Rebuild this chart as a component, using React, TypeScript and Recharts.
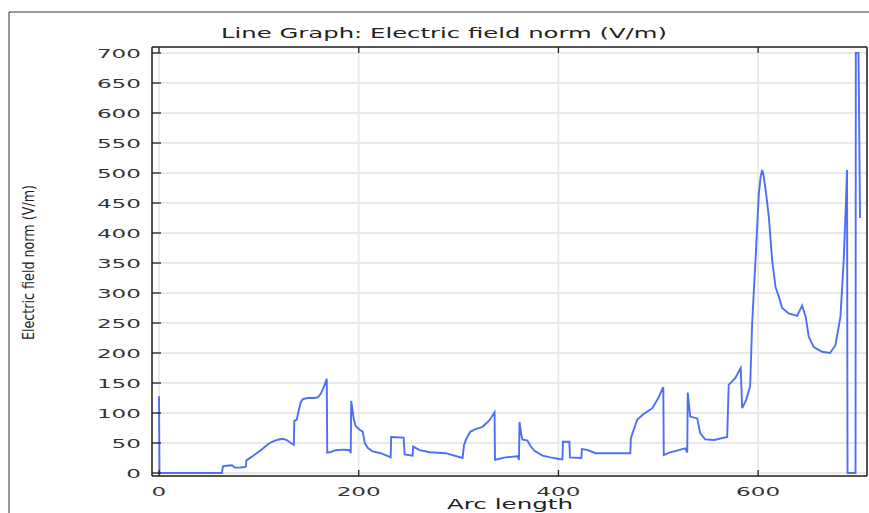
import React from "react";
import { CartesianGrid, Line, LineChart, XAxis, YAxis } from "recharts";

// arc length samples along the boundary
const arcLength = [
  0, 0.5, 63, 64, 68, 73, 76, 80, 86, 87, 87.5, 92, 97, 102, 107, 111, 115, 119, 124, 128, 132, 135,
  135.5, 138, 140, 142, 144, 149, 155, 159, 162, 165, 168, 168.5, 172, 177, 185, 191, 192, 192.5,
  195, 197, 201, 204, 206, 209, 214, 222, 231, 232, 232.5, 245, 246, 254, 254.5, 261, 271, 287, 304,
  305.5, 308, 312, 317, 324, 331, 336, 336.5, 347, 359, 360.5, 361, 363, 364, 369, 372, 376, 384,
  392, 402, 404, 404.5, 411, 411.5, 423, 423.5, 429, 437, 472, 472.5, 476, 479, 485, 494, 500, 505,
  505.5, 511, 527, 529, 529.5, 532, 539, 542, 547, 556, 569, 570.5, 577, 582.5, 584, 588, 592, 594,
  597.5, 600.7, 602.5, 604, 605.5, 607.5, 610.7, 614, 617.4, 620.7, 624, 630.7, 639, 644, 647.5,
  650.7, 655.7, 664, 672, 677.4, 682.4, 685.7, 688, 689, 689.5, 697.5, 697.8, 700.5, 702,
];

// electric field norm (V/m)
const fieldNorm = [
  128, 0, 0, 11, 12, 13, 9, 9, 10, 11, 21, 26, 32, 38, 45, 50, 53, 55.5, 57, 55, 50, 47,
  87, 89, 105, 118, 123, 125, 125, 126, 132, 143, 157, 34, 35, 38, 39, 38, 33, 120,
  90, 78, 72, 69, 50, 42, 36, 33, 27, 26, 60, 59, 31, 29, 44, 38, 34.5, 33, 25,
  47, 58, 69, 73, 77, 88, 101, 22, 26, 28, 22, 85, 62, 56, 54, 45, 37, 29,
  26, 23, 23, 52, 52, 26, 25, 40, 38.5, 33, 33, 58, 75, 89, 98, 108, 125, 143,
  30, 34, 41, 34, 134, 94, 91, 66, 56, 55, 60, 147, 158, 175, 108, 122, 145, 250,
  360, 466, 494, 505, 495, 472, 427, 355, 310, 294, 275, 266, 262, 279, 261,
  227, 210, 202, 200, 213, 260, 355, 455, 505, 0, 0, 700, 700, 425,
];

const xTicks = [0, 200, 400, 600];
const yTicks = [0, 50, 100, 150, 200, 250, 300, 350, 400, 450, 500, 550, 600, 650, 700];

const data = arcLength.map((arc, i) => ({ arc, norm: fieldNorm[i] }));

const FONT = "'DejaVu Sans', Verdana, sans-serif";
const INK = "#222";
const DIGIT_W = 14.7;

function LeftTick(props: any) {
  const { x, y, payload } = props;
  const label = String(payload.value);
  const w = label.length * DIGIT_W;
  return (
    <g>
      <line x1={x} y1={y} x2={x + 9} y2={y} stroke={INK} strokeWidth={1.3} />
      <text
        x={x - 11 - w}
        y={y + 5}
        fontFamily={FONT}
        fontSize={13}
        fill="#333"
        textLength={w}
        lengthAdjust="spacingAndGlyphs"
      >
        {label}
      </text>
    </g>
  );
}

function RightTick(props: any) {
  const { x, y } = props;
  return <line x1={x} y1={y} x2={x - 9} y2={y} stroke={INK} strokeWidth={1.3} />;
}

function BottomTick(props: any) {
  const { x, y, payload } = props;
  const label = String(payload.value);
  const w = label.length * DIGIT_W;
  return (
    <g>
      <line x1={x} y1={y} x2={x} y2={y - 6} stroke={INK} strokeWidth={1.3} />
      <text
        x={x - w / 2}
        y={y + 20}
        fontFamily={FONT}
        fontSize={13}
        fill="#333"
        textLength={w}
        lengthAdjust="spacingAndGlyphs"
      >
        {label}
      </text>
    </g>
  );
}

function TopTick(props: any) {
  const { x, y } = props;
  return <line x1={x} y1={y} x2={x} y2={y + 6} stroke={INK} strokeWidth={1.3} />;
}

export default function App() {
  const axisLine = { stroke: INK, strokeWidth: 1.5 };
  return (
    <div style={{ position: "absolute", left: 0, top: 0, width: 869, height: 513, background: "#fff", overflow: "hidden" }}>
      <LineChart width={869} height={513} data={data} margin={{ top: 27, right: 1, bottom: 7, left: 92 }}>
        <CartesianGrid stroke="#e9e9e9" strokeWidth={1.8} />
        <XAxis
          dataKey="arc"
          type="number"
          domain={[-7, 709]}
          ticks={xTicks}
          interval={0}
          height={30}
          tickSize={0}
          tickMargin={0}
          tickLine={false}
          axisLine={axisLine}
          tick={BottomTick}
        />
        <XAxis
          xAxisId="top"
          orientation="top"
          dataKey="arc"
          type="number"
          domain={[-7, 709]}
          ticks={xTicks}
          interval={0}
          height={20}
          tickSize={0}
          tickMargin={0}
          tickLine={false}
          axisLine={axisLine}
          tick={TopTick}
        />
        <YAxis
          type="number"
          domain={[-5, 710]}
          ticks={yTicks}
          interval={0}
          width={60}
          tickSize={0}
          tickMargin={0}
          tickLine={false}
          axisLine={axisLine}
          tick={LeftTick}
        />
        <YAxis
          yAxisId="right"
          orientation="right"
          type="number"
          domain={[-5, 710]}
          ticks={yTicks}
          interval={0}
          width={1}
          tickSize={0}
          tickMargin={0}
          tickLine={false}
          axisLine={axisLine}
          tick={RightTick}
        />
        <Line
          dataKey="norm"
          type="linear"
          stroke="#4d6ef5"
          strokeWidth={1.9}
          dot={false}
          isAnimationActive={false}
        />
      </LineChart>
      <svg width={869} height={513} style={{ position: "absolute", left: 0, top: 0, pointerEvents: "none" }}>
        <line x1={9} y1={12} x2={869} y2={12} stroke="#333" strokeWidth={1} />
        <line x1={9} y1={12} x2={9} y2={513} stroke="#333" strokeWidth={1} />
        <text x={221} y={38} fontFamily={FONT} fontSize={14} fill={INK} textLength={446} lengthAdjust="spacingAndGlyphs">
          Line Graph: Electric field norm (V/m)
        </text>
        <text
          x={447}
          y={509}
          fontFamily={FONT}
          fontSize={13.5}
          fill={INK}
          textLength={126}
          lengthAdjust="spacingAndGlyphs"
        >
          Arc length
        </text>
        <text
          transform="translate(34, 340) rotate(-90)"
          fontFamily="'DejaVu Sans Condensed', 'Liberation Sans Narrow', sans-serif"
          fontSize={15}
          fill={INK}
          textLength={155}
          lengthAdjust="spacingAndGlyphs"
        >
          Electric field norm (V/m)
        </text>
      </svg>
    </div>
  );
}
